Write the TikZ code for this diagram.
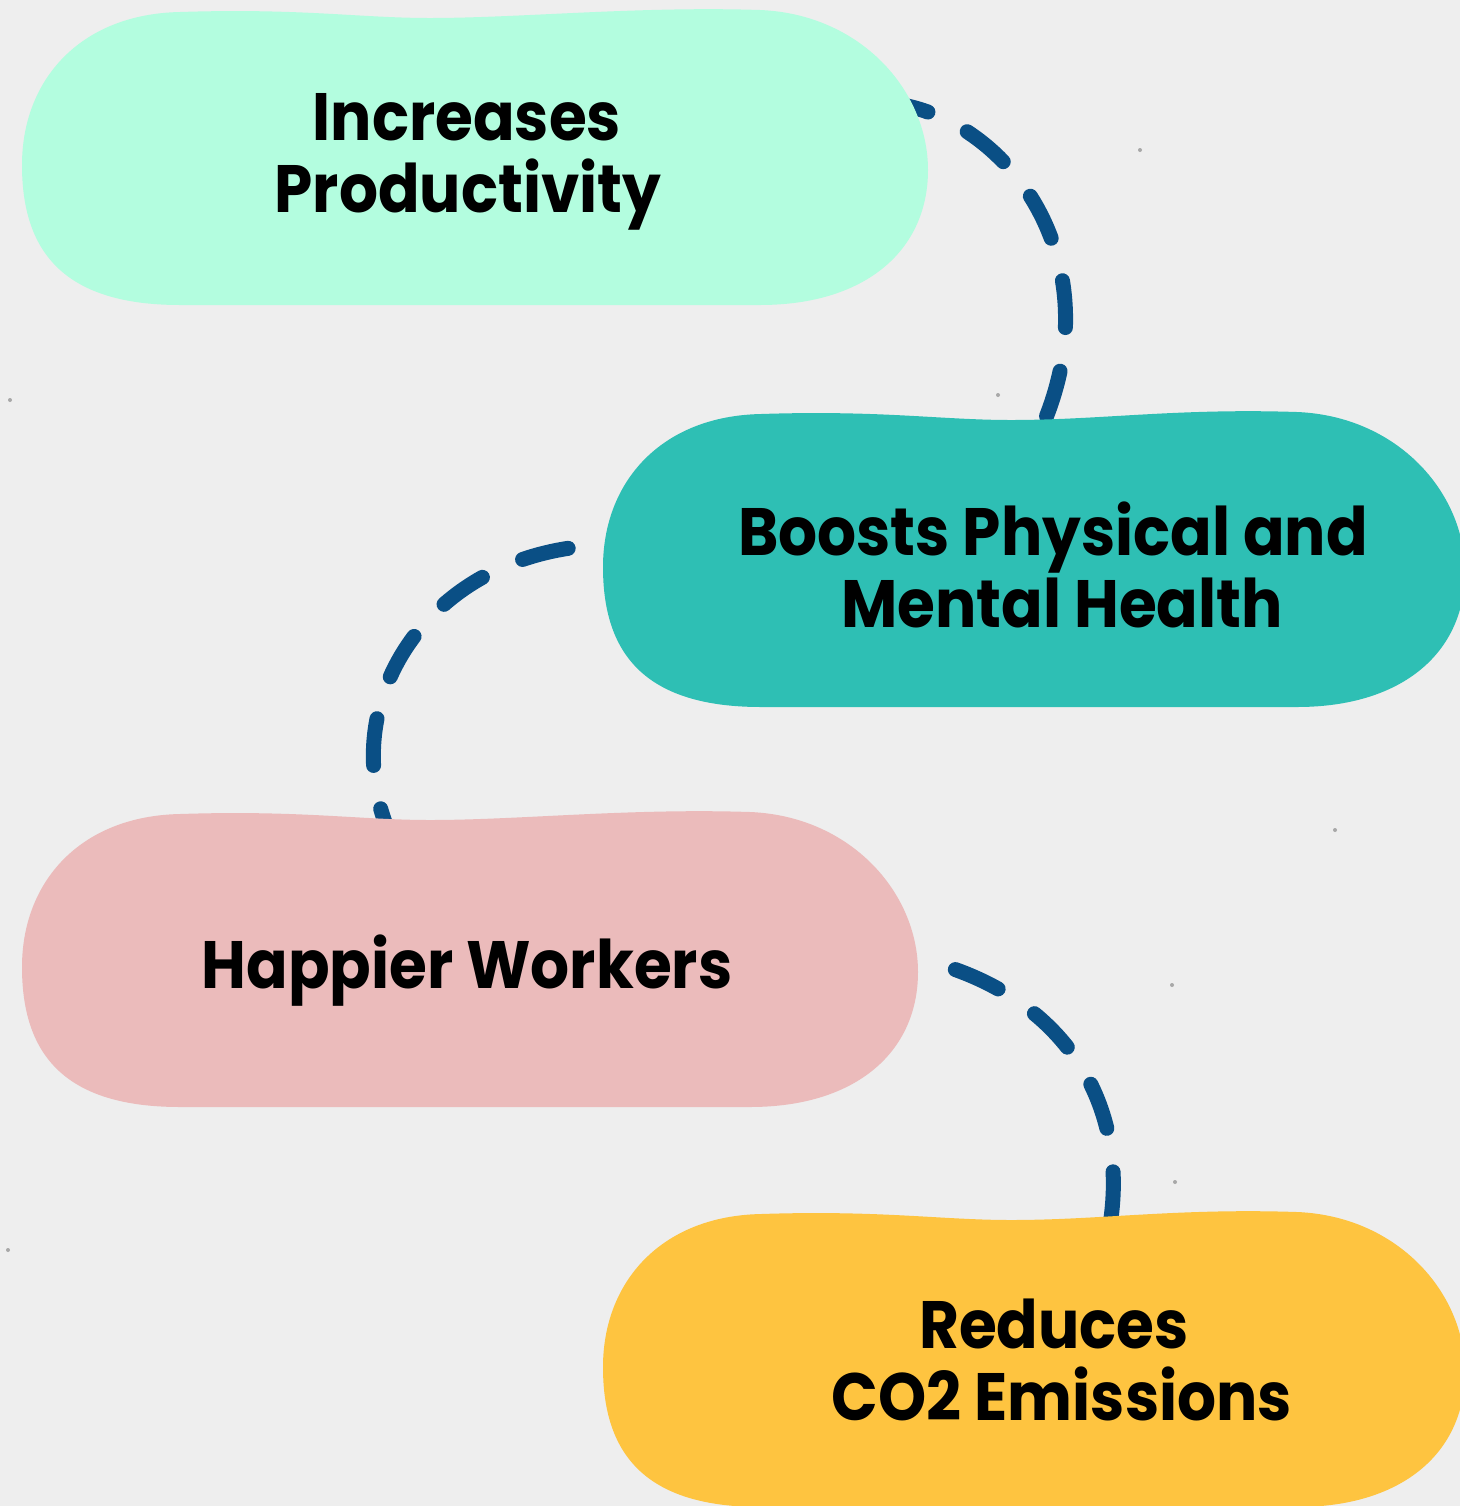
\documentclass[tikz,border=0pt]{standalone}
\usepackage{fontspec}
\setmainfont{Poppins}[FakeStretch=0.915]
\definecolor{paper}{HTML}{EEEEEE}
\definecolor{mint}{HTML}{B3FDDF}
\definecolor{teal}{HTML}{2EBFB4}
\definecolor{rose}{HTML}{EBBBBB}
\definecolor{sun}{HTML}{FEC440}
\definecolor{ink}{HTML}{0A4F85}
\definecolor{speck}{HTML}{A8A8A8}

% soft pill-shaped blob: left x, top y, width, fill colour (height 295)
\newcommand\blobfill[4]{%
  \fill[#4] ({#1+158},{#2+2})
    .. controls ({#1+278},{#2-2}) and ({#1+338},{#2+8}) .. ({#1+408},{#2+8})
    .. controls ({#1+498},{#2+8}) and ({#1+#3-288},{#2-4}) .. ({#1+#3-168},{#2})
    .. controls ({#1+#3-68},{#2+4}) and ({#1+#3},{#2+80}) .. ({#1+#3},{#2+160})
    .. controls ({#1+#3},{#2+240}) and ({#1+#3-62},{#2+295}) .. ({#1+#3-168},{#2+295})
    -- ({#1+158},{#2+295})
    .. controls ({#1+40},{#2+295}) and ({#1},{#2+240}) .. ({#1},{#2+155})
    .. controls ({#1},{#2+70}) and ({#1+58},{#2+4}) .. ({#1+158},{#2+2}) -- cycle;}

\tikzset{
  lbl/.style={font=\bfseries\fontsize{33.5}{36}\selectfont, text=black, inner sep=0pt, anchor=base},
  link/.style={draw=ink, line width=7.5pt, line cap=round,
               dash pattern=on 23.5pt off 22pt},
}

\begin{document}
\begin{tikzpicture}[x=0.5pt,y=-0.5pt]
\useasboundingbox (0,0) rectangle (1460,1506);
\fill[paper] (0,0) rectangle (1460,1506);
\clip (0,0) rectangle (1460,1506);

% a few specks in the paper
\foreach \p in {(10,400),(1140,150),(998,395),(1335,830),(1172,985),(8,1250),(1175,1182)}
  \fill[speck] \p circle (2);

% connector end points
\coordinate (c1a) at (897,104);
\coordinate (c1b) at (1045,420);
\coordinate (c2a) at (605,545);
\coordinate (c2b) at (388,830);
\coordinate (c3a) at (915,958);
\coordinate (c3b) at (1110,1225);

% dashed connectors run beneath the blobs
\draw[link, dash phase=7.5pt] (c1a) .. controls (1010,122) and (1110,260) .. (c1b);
\draw[link, dash phase=27pt] (c2a) .. controls (430,550) and (335,700) .. (c2b);
\draw[link, dash phase=24.5pt] (c3a) .. controls (1060,990) and (1130,1100) .. (c3b);

% blobs
\blobfill{22}{10}{906}{mint}
\blobfill{603}{412}{862}{teal}
\blobfill{22}{812}{896}{rose}
\blobfill{603}{1212}{862}{sun}

% labels
\node[lbl] (t1a) at (467,140) {Increases};
\node[lbl] (t1b) at (468,212) {Productivity};
\node[lbl] (t2a) at (1053,555) {Boosts Physical and};
\node[lbl] (t2b) at (1062,627) {Mental Health};
\node[lbl] (t3)  at (467,988) {Happier Workers};
\node[lbl] (t4a) at (1054,1348) {Reduces};
\node[lbl] (t4b) at (1062,1420) {CO2 Emissions};
\end{tikzpicture}
\end{document}
